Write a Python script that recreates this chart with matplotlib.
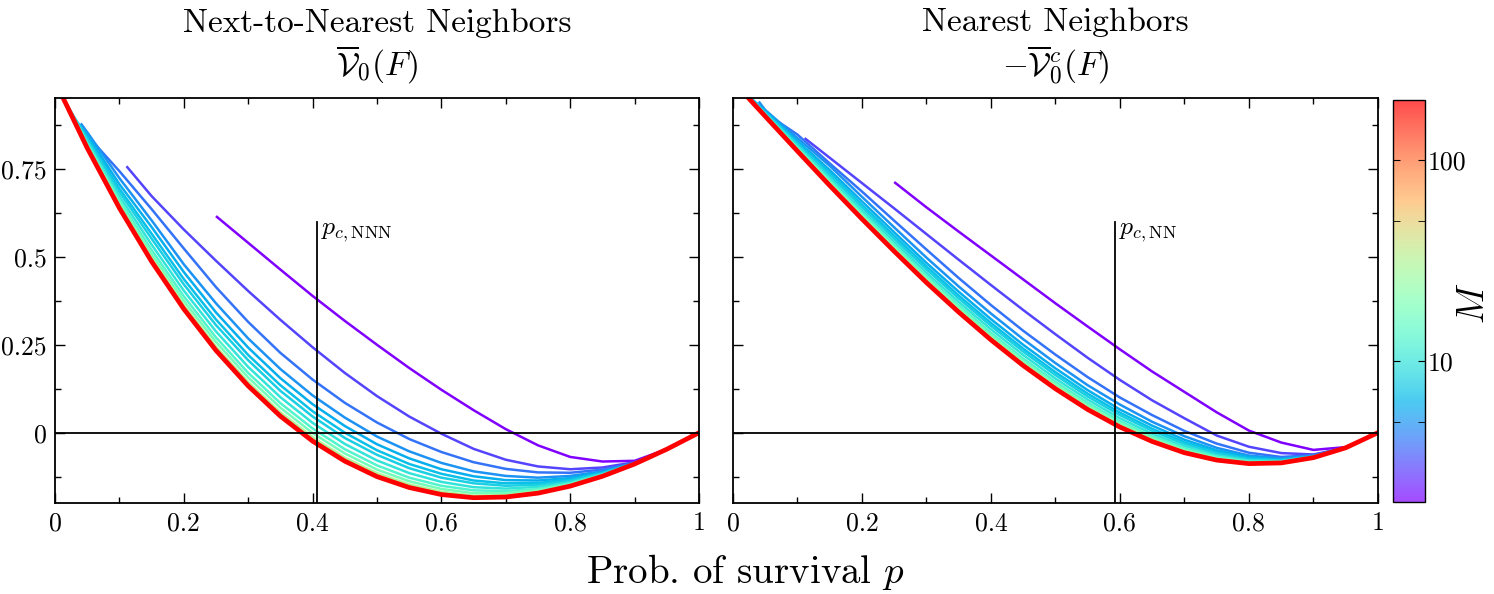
import numpy as np
import matplotlib
matplotlib.use('Agg')
import matplotlib.pyplot as plt
from matplotlib.colors import LogNorm
from matplotlib.cm import ScalarMappable
from matplotlib.ticker import FixedLocator, MultipleLocator, NullFormatter

plt.rcParams['font.family'] = 'serif'
plt.rcParams['font.serif'] = ['cmr10']
plt.rcParams['mathtext.fontset'] = 'cm'
plt.rcParams['axes.unicode_minus'] = False
plt.rcParams['axes.formatter.use_mathtext'] = True

# shared p grid, each curve starts at its own p (1/M^2)
P_GRID = [0.00, 0.05, 0.10, 0.15, 0.20, 0.25, 0.30, 0.35, 0.40, 0.45, 0.50,
          0.55, 0.60, 0.65, 0.70, 0.75, 0.80, 0.85, 0.90, 0.95, 1.00]
M_VALUES = [2, 3, 4, 5, 6, 7, 8, 10, 13, 18, 30, 60, 200]
P_START = [0.25, 0.111, 0.0625, 0.04, 0.028, 0.02, 0.016, 0.01, 0.006, 0.003, 0.001, 0.0003, 0.0]

# left panel: next-to-nearest neighbours
NNN_CURVES = [
    [0.616, 0.540, 0.464, 0.389, 0.318, 0.250, 0.184, 0.122, 0.064, 0.010, -0.036, -0.069, -0.082, -0.080, -0.047, 0.0],
    [0.758, 0.673, 0.578, 0.489, 0.403, 0.321, 0.243, 0.170, 0.104, 0.046, -0.003, -0.046, -0.077, -0.096, -0.104, -0.099, -0.084, -0.047, 0.0],
    [0.820, 0.744, 0.636, 0.524, 0.414, 0.315, 0.227, 0.151, 0.085, 0.029, -0.018, -0.055, -0.084, -0.103, -0.113, -0.114, -0.105, -0.086, -0.047, 0.0],
    [0.880, 0.855, 0.724, 0.604, 0.479, 0.368, 0.268, 0.181, 0.106, 0.043, -0.011, -0.053, -0.086, -0.110, -0.123, -0.128, -0.123, -0.110, -0.087, -0.047, 0.0],
    [0.895, 0.847, 0.707, 0.585, 0.457, 0.342, 0.242, 0.155, 0.081, 0.019, -0.033, -0.073, -0.104, -0.124, -0.135, -0.136, -0.129, -0.112, -0.087, -0.047, 0.0],
    [0.925, 0.840, 0.694, 0.566, 0.437, 0.322, 0.221, 0.135, 0.061, 0.000, -0.050, -0.089, -0.117, -0.136, -0.144, -0.143, -0.133, -0.115, -0.088, -0.047, 0.0],
    [0.940, 0.835, 0.685, 0.552, 0.422, 0.306, 0.206, 0.119, 0.046, -0.015, -0.063, -0.101, -0.128, -0.144, -0.151, -0.148, -0.137, -0.116, -0.088, -0.047, 0.0],
    [0.962, 0.828, 0.673, 0.535, 0.404, 0.288, 0.187, 0.101, 0.028, -0.032, -0.079, -0.115, -0.140, -0.155, -0.159, -0.154, -0.141, -0.118, -0.088, -0.047, 0.0],
    [0.977, 0.823, 0.662, 0.520, 0.388, 0.271, 0.170, 0.084, 0.012, -0.047, -0.093, -0.128, -0.151, -0.164, -0.166, -0.160, -0.144, -0.120, -0.089, -0.047, 0.0],
    [0.988, 0.818, 0.654, 0.508, 0.375, 0.258, 0.157, 0.071, -0.001, -0.059, -0.105, -0.138, -0.160, -0.172, -0.172, -0.164, -0.147, -0.121, -0.089, -0.047, 0.0],
    [0.996, 0.814, 0.646, 0.497, 0.363, 0.245, 0.144, 0.058, -0.013, -0.071, -0.115, -0.147, -0.168, -0.179, -0.178, -0.168, -0.150, -0.123, -0.089, -0.047, 0.0],
    [0.999, 0.811, 0.642, 0.491, 0.356, 0.238, 0.137, 0.051, -0.020, -0.077, -0.121, -0.153, -0.173, -0.183, -0.181, -0.171, -0.151, -0.124, -0.089, -0.047, 0.0],
    [1.000, 0.810, 0.639, 0.487, 0.352, 0.234, 0.133, 0.047, -0.024, -0.081, -0.125, -0.156, -0.176, -0.185, -0.183, -0.172, -0.152, -0.124, -0.089, -0.047, 0.0],
]

# right panel: nearest neighbours (complement, sign flipped)
NN_CURVES = [
    [0.713, 0.641, 0.572, 0.504, 0.436, 0.368, 0.302, 0.237, 0.174, 0.116, 0.058, 0.006, -0.028, -0.049, -0.041, 0.0],
    [0.838, 0.782, 0.710, 0.638, 0.565, 0.492, 0.420, 0.349, 0.280, 0.213, 0.150, 0.092, 0.041, -0.008, -0.040, -0.058, -0.062, -0.043, 0.0],
    [0.894, 0.848, 0.766, 0.686, 0.603, 0.521, 0.440, 0.363, 0.290, 0.222, 0.158, 0.100, 0.050, 0.005, -0.031, -0.057, -0.069, -0.064, -0.042, 0.0],
    [0.942, 0.918, 0.838, 0.759, 0.671, 0.584, 0.498, 0.416, 0.339, 0.266, 0.198, 0.135, 0.080, 0.031, -0.010, -0.043, -0.065, -0.073, -0.066, -0.042, 0.0],
    [0.951, 0.915, 0.830, 0.747, 0.658, 0.570, 0.483, 0.401, 0.323, 0.250, 0.183, 0.121, 0.066, 0.020, -0.020, -0.050, -0.069, -0.076, -0.067, -0.042, 0.0],
    [0.965, 0.912, 0.825, 0.739, 0.648, 0.560, 0.473, 0.390, 0.312, 0.239, 0.172, 0.111, 0.057, 0.011, -0.027, -0.055, -0.073, -0.078, -0.068, -0.043, 0.0],
    [0.971, 0.910, 0.821, 0.733, 0.642, 0.552, 0.465, 0.382, 0.304, 0.231, 0.164, 0.103, 0.050, 0.005, -0.032, -0.059, -0.076, -0.079, -0.068, -0.043, 0.0],
    [0.982, 0.907, 0.816, 0.725, 0.633, 0.543, 0.455, 0.372, 0.294, 0.221, 0.154, 0.094, 0.041, -0.003, -0.038, -0.064, -0.079, -0.081, -0.069, -0.043, 0.0],
    [0.988, 0.905, 0.811, 0.718, 0.625, 0.535, 0.446, 0.363, 0.284, 0.211, 0.145, 0.085, 0.033, -0.010, -0.044, -0.068, -0.082, -0.082, -0.070, -0.043, 0.0],
    [0.994, 0.903, 0.808, 0.713, 0.619, 0.528, 0.440, 0.356, 0.277, 0.204, 0.138, 0.078, 0.027, -0.015, -0.049, -0.072, -0.084, -0.084, -0.070, -0.043, 0.0],
    [0.998, 0.902, 0.804, 0.708, 0.613, 0.522, 0.433, 0.349, 0.270, 0.197, 0.131, 0.072, 0.021, -0.020, -0.053, -0.075, -0.086, -0.085, -0.071, -0.043, 0.0],
    [0.999, 0.901, 0.802, 0.705, 0.610, 0.518, 0.429, 0.345, 0.266, 0.193, 0.127, 0.068, 0.018, -0.023, -0.056, -0.077, -0.088, -0.086, -0.071, -0.043, 0.0],
    [1.000, 0.900, 0.801, 0.703, 0.608, 0.516, 0.427, 0.343, 0.264, 0.191, 0.125, 0.066, 0.016, -0.025, -0.057, -0.078, -0.088, -0.086, -0.071, -0.043, 0.0],
]

PC_NNN = 0.4073
PC_NN = 0.5927
X_TICKS = [0, 0.2, 0.4, 0.6, 0.8, 1]
X_LABELS = ['0', '0.2', '0.4', '0.6', '0.8', '1']
Y_TICKS = [0, 0.25, 0.5, 0.75]
Y_LABELS = ['0', '0.25', '0.5', '0.75']

cmap = plt.get_cmap('rainbow')
norm = LogNorm(vmin=2, vmax=200)

fig = plt.figure(figsize=(14.94, 5.94), dpi=100)
ax1 = fig.add_axes([0.0368, 0.1532, 0.4311, 0.6818])
ax2 = fig.add_axes([0.4906, 0.1532, 0.4317, 0.6818])
cax = fig.add_axes([0.9324, 0.1549, 0.0214, 0.6768])


def curve_x(p0):
    return [p0] + [p for p in P_GRID if p > p0 + 1e-9]


def draw_panel(ax, curves, pc, pc_label, title, show_ylabels):
    for m, p0, vals in zip(M_VALUES, P_START, curves):
        lw = 3.4 if m == M_VALUES[-1] else 1.8
        ax.plot(curve_x(p0), vals, color=cmap(norm(m)), lw=lw, solid_capstyle='butt')
    ax.axhline(0, color='k', lw=1.3, zorder=5)
    ax.plot([pc, pc], [-0.2, 0.6], color='k', lw=1.3, zorder=5)
    ax.text(pc + 0.006, 0.605, pc_label, fontsize=18.5, ha='left', va='top')
    ax.set_xlim(0, 1)
    ax.set_ylim(-0.2, 0.952)
    ax.set_xticks(X_TICKS)
    ax.set_xticklabels(X_LABELS)
    ax.set_yticks(Y_TICKS)
    if show_ylabels:
        ax.set_yticklabels(Y_LABELS)
    else:
        ax.set_yticklabels([])
    ax.xaxis.set_minor_locator(MultipleLocator(0.1))
    ax.yaxis.set_minor_locator(MultipleLocator(0.125))
    ax.tick_params(which='both', direction='in', top=True, right=True, labelsize=18.5, width=1.0)
    ax.tick_params(which='major', length=7, pad=6)
    ax.tick_params(which='minor', length=4)
    for s in ax.spines.values():
        s.set_linewidth(1.3)
    ax.set_title(title, fontsize=24, pad=16, linespacing=1.2)


draw_panel(ax1, NNN_CURVES, PC_NNN, r'$p_{c,\mathrm{NNN}}$',
           'Next-to-Nearest Neighbors\n' + r'$\overline{\mathcal{V}}_0(F)$', True)
draw_panel(ax2, NN_CURVES, PC_NN, r'$p_{c,\mathrm{NN}}$',
           'Nearest Neighbors\n' + r'$-\overline{\mathcal{V}}^c_0(F)$', False)

sm = ScalarMappable(norm=norm, cmap=cmap)
cb = fig.colorbar(sm, cax=cax, alpha=0.7)
cb.set_ticks([10, 100])
cb.set_ticklabels(['10', '100'])
cb.ax.yaxis.set_minor_locator(FixedLocator([5, 50]))
cb.ax.yaxis.set_minor_formatter(NullFormatter())
cb.ax.tick_params(which='both', direction='in', left=True, right=True, labelsize=18.5, length=5, pad=2)
cb.outline.set_linewidth(1.0)

# colour bar title placed as figure text so it stays inside the canvas
fig.text(0.9866, 0.49, r'$M$', fontsize=27, rotation=90, ha='center', va='center')

fig.text(0.499, 0.037, r'Prob. of survival $p$', fontsize=28, ha='center', va='center')

fig.savefig('out.png', dpi=100)
